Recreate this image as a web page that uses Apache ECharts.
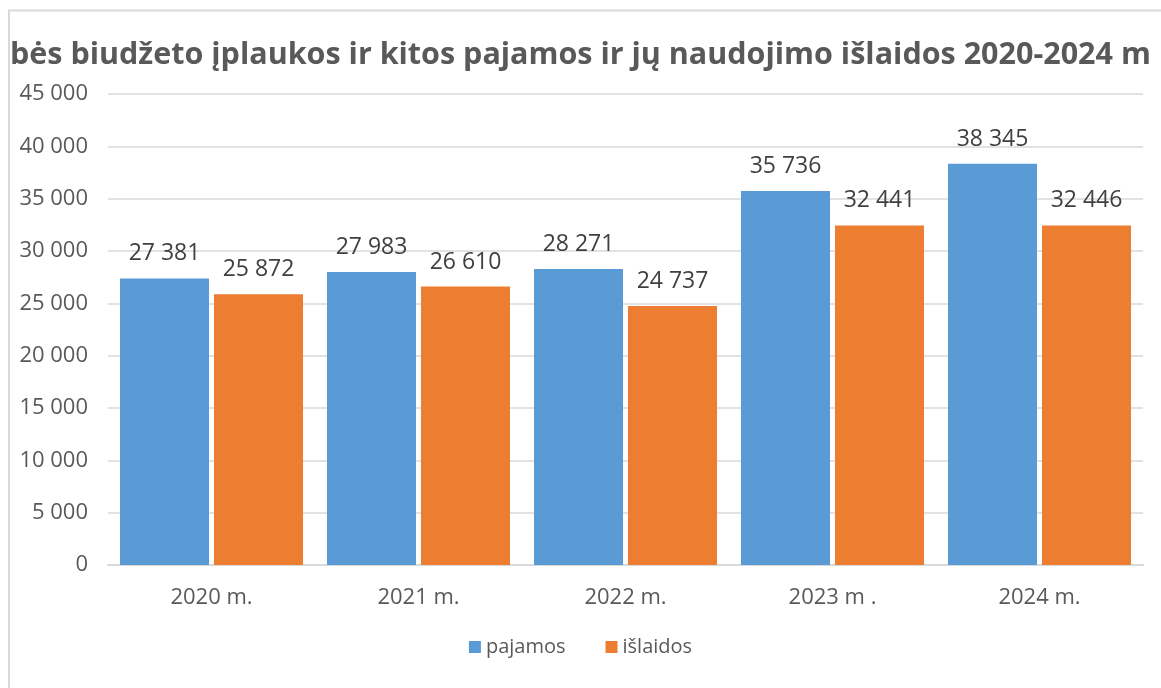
<!DOCTYPE html>
<html>
<head>
<meta charset="utf-8">
<script src="https://cdn.jsdelivr.net/npm/echarts@6/dist/echarts.min.js"></script>
<style>
html,body{margin:0;padding:0;background:#fff;}
#c{width:1161px;height:688px;}
</style>
</head>
<body>
<div id="c"></div>
<script>
const titleText = 'bės biudžeto įplaukos ir kitos pajamos ir jų naudojimo išlaidos 2020-2024 m';
const categories = ['2020 m.', '2021 m.', '2022 m.', '2023 m .', '2024 m.'];
const seriesNames = ['pajamos', 'išlaidos'];
const pajamos = [27381, 27983, 28271, 35736, 38345];
const islaidos = [25872, 26610, 24737, 32441, 32446];
const yTicks = [0, 5000, 10000, 15000, 20000, 25000, 30000, 35000, 40000, 45000];

function fmt(v){ return String(v).replace(/\B(?=(\d{3})+(?!\d))/g, ' '); }

const FONT = '"Open Sans", "Noto Sans", sans-serif';
const chart = echarts.init(document.getElementById('c'), null, {renderer:'canvas'});
chart.setOption({
  animation:false,
  textStyle:{fontFamily:FONT},
  graphic:[{
    type:'polyline', silent:true,
    shape:{points:[[9,688],[9,10.5],[1161,10.5]]},
    style:{stroke:'#d9d9d9', lineWidth:2, fill:null}
  },{
    type:'text', left:10, top:40,
    style:{text:titleText, font:'bold 30.5px ' + FONT, fill:'#595959'}
  }],
  legend:{
    data:seriesNames, bottom:26, left:'center',
    itemWidth:12, itemHeight:12, itemGap:40,
    icon:'rect',
    textStyle:{fontSize:20, color:'#595959', fontFamily:FONT}
  },
  grid:{left:108, right:18, top:94, bottom:123, containLabel:false},
  xAxis:{
    type:'category', data:categories,
    axisLine:{lineStyle:{color:'#d9d9d9', width:2}},
    axisTick:{show:false},
    axisLabel:{fontSize:22, color:'#595959', margin:22, fontFamily:FONT}
  },
  yAxis:{
    type:'value', min:yTicks[0], max:yTicks[yTicks.length-1], interval:5000,
    axisLine:{show:false}, axisTick:{show:false},
    splitLine:{lineStyle:{color:'#d9d9d9', width:1.5}},
    axisLabel:{fontSize:22, color:'#595959', margin:20, formatter:fmt, fontFamily:FONT}
  },
  series:[{
    name:seriesNames[0], type:'bar', data:pajamos,
    barGap:'5.6%', barCategoryGap:'11.6%',
    itemStyle:{color:'#5B9BD5'},
    label:{show:true, position:'top', distance:13, fontSize:23, color:'#404040', formatter:p=>fmt(p.value), fontFamily:FONT}
  },{
    name:seriesNames[1], type:'bar', data:islaidos,
    itemStyle:{color:'#ED7D31'},
    label:{show:true, position:'top', distance:13, fontSize:23, color:'#404040', formatter:p=>fmt(p.value), fontFamily:FONT}
  }]
});
</script>
</body>
</html>
